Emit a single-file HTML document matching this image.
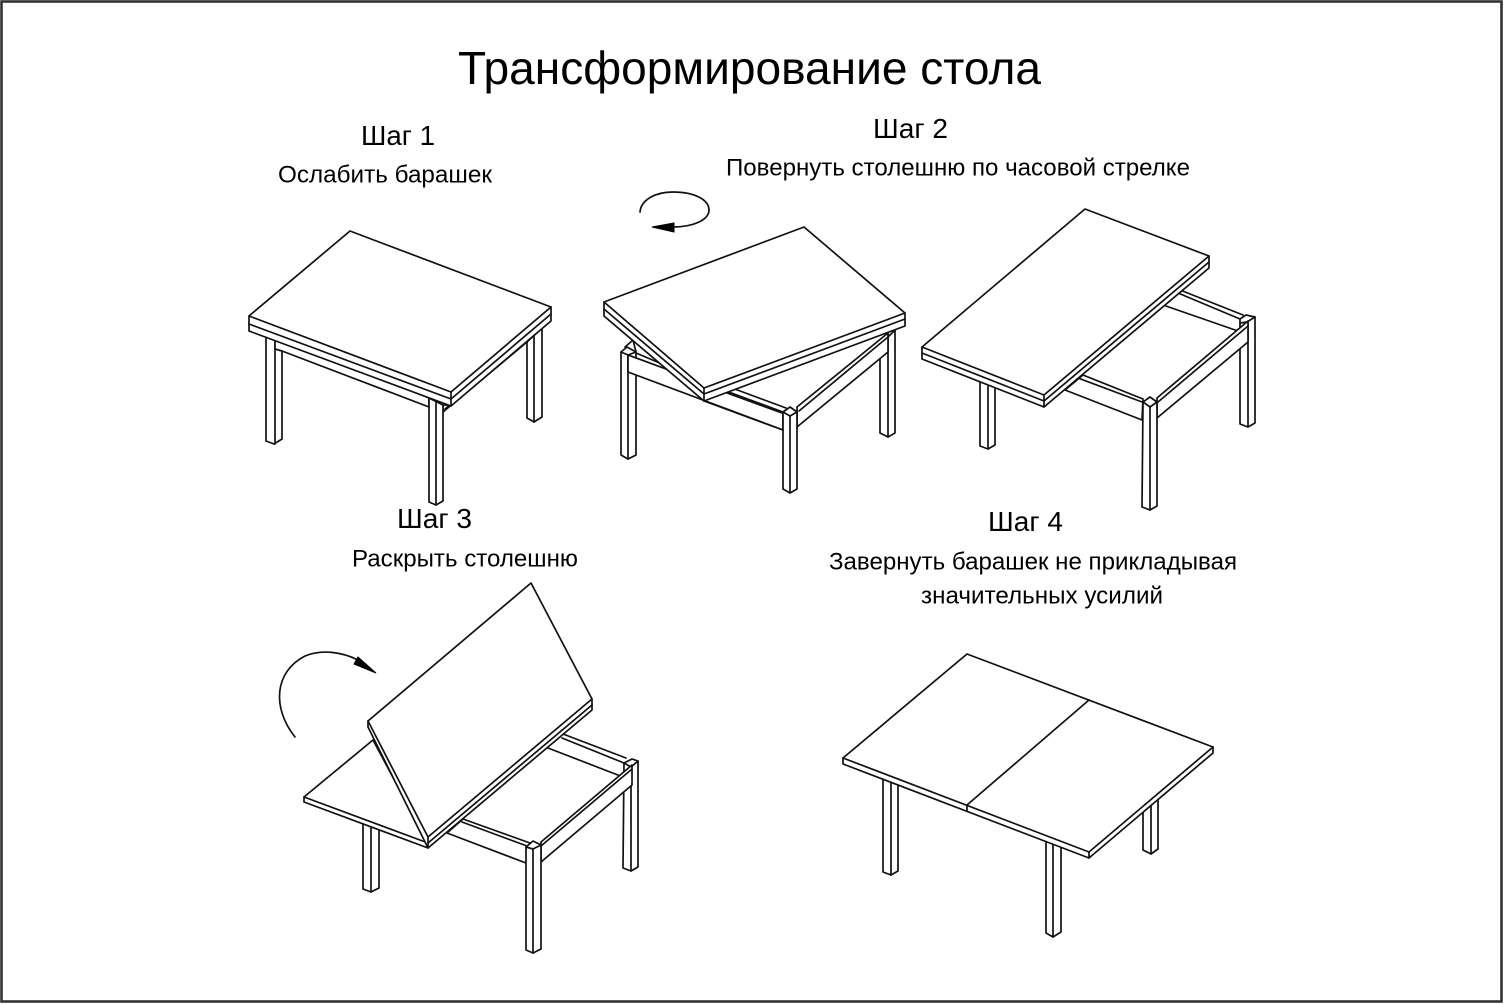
<!DOCTYPE html>
<html lang="ru"><head><meta charset="utf-8"><style>
html,body{margin:0;padding:0;background:#fff}
svg{display:block}
text{font-family:"Liberation Sans",Arial,sans-serif;fill:#000}
.p polygon,.p polyline,.p path,.p line{stroke:#111;stroke-width:1.7;stroke-linejoin:round;stroke-linecap:round}
polygon{fill:#fff}
polyline,line,path{fill:none}
</style></head><body>
<svg width="1504" height="1004" viewBox="0 0 1504 1004" xmlns="http://www.w3.org/2000/svg">
<rect x="0" y="0" width="1504" height="1004" fill="#fff"/>
<rect x="1.5" y="1.5" width="1500" height="1000" fill="none" stroke="#333" stroke-width="2.6"/>

<text x="458" y="84" font-size="46" textLength="583" lengthAdjust="spacingAndGlyphs">Трансформирование стола</text>
<text x="361" y="145" font-size="28" textLength="74" lengthAdjust="spacingAndGlyphs">Шаг 1</text>
<text x="278" y="182.5" font-size="24.5" textLength="214" lengthAdjust="spacingAndGlyphs">Ослабить барашек</text>
<text x="873" y="138" font-size="28" textLength="75" lengthAdjust="spacingAndGlyphs">Шаг 2</text>
<text x="726" y="175.5" font-size="24.5" textLength="464" lengthAdjust="spacingAndGlyphs">Повернуть столешню по часовой стрелке</text>
<text x="397" y="528" font-size="28" textLength="75" lengthAdjust="spacingAndGlyphs">Шаг 3</text>
<text x="352" y="566.5" font-size="24.5" textLength="226" lengthAdjust="spacingAndGlyphs">Раскрыть столешню</text>
<text x="988" y="531" font-size="28" textLength="75" lengthAdjust="spacingAndGlyphs">Шаг 4</text>
<text x="829" y="569.5" font-size="24.5" textLength="408" lengthAdjust="spacingAndGlyphs">Завернуть барашек не прикладывая</text>
<text x="921" y="603.5" font-size="24.5" textLength="242" lengthAdjust="spacingAndGlyphs">значительных усилий</text>

<!-- Table 1 -->
<g class="p">
<polygon points="527,330 542,322 542,417 534,422 527,418"/><line x1="534" y1="335" x2="534" y2="422"/>
<polygon points="443,412 527,342 542,328 451,405 443,405"/>
<line x1="445" y1="409" x2="540" y2="330"/>
<polygon points="266,330 282,330 282,439 274,444 266,441"/><line x1="275" y1="335" x2="275" y2="444"/>
<polygon points="275,335 429,398 429,407 282,351 275,349"/>
<polygon points="429,398 443,405 443,501 436,505 429,502"/><line x1="436" y1="402" x2="436" y2="505"/>
<polygon points="350,231 551,307 551,321 451,406 249,331 249,316"/>
<polyline points="249,316 451,392 551,307"/>
<polyline points="249,324 451,399 551,314"/>
<line x1="451" y1="392" x2="451" y2="406"/>
</g>

<!-- Table 2 -->
<g class="p">
<polygon points="880,345 895,330 895,433 888,437 880,433"/><line x1="888" y1="333" x2="888" y2="437"/>
<polyline points="625,347 633,340 636,352"/>
<polygon points="621,352 627,347 636,352 636,455 628,459 621,455"/>
<polyline points="621,352 628,355 636,352"/><line x1="628" y1="355" x2="628" y2="459"/>
<polygon points="628,355 783,412 783,430 628,372"/>
<line x1="636" y1="353" x2="662" y2="364"/>
<polygon points="797,407 888,333 888,352 797,427"/>
<line x1="799" y1="411" x2="888" y2="337"/>
<line x1="732" y1="388" x2="786" y2="408"/>
<line x1="727" y1="393" x2="782" y2="413"/>
<polygon points="783,412 790,407 797,412 797,489 790,493 783,489"/>
<polyline points="783,412 790,416 797,412"/><line x1="790" y1="416" x2="790" y2="493"/>
<polygon points="804,227 905,313 905,326 704,401 604,316 604,302"/>
<polyline points="604,302 704,388 905,313"/>
<polyline points="604,309 704,394 905,319"/>
<line x1="704" y1="388" x2="704" y2="401"/>
<line x1="704" y1="401" x2="783" y2="430"/>
</g>

<!-- Table 3 -->
<g class="p">
<polygon points="1240,319 1246,315 1255,317 1255,423 1248,427 1240,424"/><line x1="1248" y1="323" x2="1248" y2="427"/>
<polyline points="1240,323 1247,322 1255,317"/>
<line x1="1180" y1="290" x2="1243" y2="315"/>
<line x1="1178" y1="293" x2="1240" y2="319"/>
<line x1="1163" y1="305" x2="1238" y2="331"/>
<polygon points="980,375 995,375 995,445 988,449 980,446"/><line x1="988" y1="382" x2="988" y2="449"/>
<polygon points="1083,375 1143,399 1142,420 1065,390"/>
<line x1="1078" y1="378" x2="1142" y2="402"/>
<polygon points="1157,398 1248,321 1248,342 1157,418"/>
<line x1="1158" y1="402" x2="1248" y2="326"/>
<polygon points="1143,402 1150,397 1157,402 1157,506 1150,510 1142,507"/>
<polyline points="1143,402 1150,407 1157,402"/><line x1="1150" y1="407" x2="1150" y2="510"/>
<polygon points="1085,209 1209,256 1209,268 1044,407 922,359 922,347"/>
<polyline points="922,347 1044,395 1209,256"/>
<polyline points="922,353 1044,401 1209,262"/>
<line x1="1044" y1="395" x2="1044" y2="407"/>
</g>

<!-- Table 4 (step 3) -->
<g class="p">
<polygon points="624,763 632,759 638,761 638,867 631,871 623,868"/><line x1="631" y1="767" x2="631" y2="871"/>
<polyline points="624,763 631,767 638,761"/>
<line x1="563" y1="734" x2="626" y2="758"/>
<line x1="562" y1="738" x2="624" y2="763"/>
<line x1="548" y1="748" x2="623" y2="777"/>
<polygon points="363,820 379,820 379,888 371,892 363,889"/><line x1="371" y1="825" x2="371" y2="892"/>
<polygon points="463,819 530,843 526,863 447,833"/>
<line x1="462" y1="822" x2="527" y2="846"/>
<polygon points="541,842 632,765 632,785 541,862"/>
<line x1="541" y1="846" x2="632" y2="769"/>
<polygon points="526,847 533,841 541,845 541,949 533,953 526,950"/>
<polyline points="526,847 533,849 541,845"/><line x1="533" y1="849" x2="533" y2="953"/>
<polygon points="304,797 373,740 428,843 428,848 304,802"/>
<line x1="304" y1="797" x2="428" y2="843"/>
<polygon points="531,583 592,699 592,710 428,848 368,727 368,721"/>
<polyline points="368,721 428,837 592,699"/>
<line x1="428" y1="843" x2="592" y2="705"/>
<line x1="428" y1="837" x2="428" y2="848"/>
</g>

<!-- Table 5 (step 4) -->
<g class="p">
<polygon points="1143,795 1158,795 1158,849 1151,854 1143,850"/><line x1="1151" y1="800" x2="1151" y2="854"/>
<polygon points="883,775 898,775 898,871 891,875 883,872"/><line x1="891" y1="780" x2="891" y2="875"/>
<polygon points="1046,835 1061,835 1061,932 1053,937 1046,933"/><line x1="1053" y1="845" x2="1053" y2="937"/>
<polygon points="967,654 1213,747 1213,753 1089,858 843,764 843,758"/>
<polyline points="843,758 1089,852 1213,747"/>
<line x1="1089" y1="852" x2="1089" y2="858"/>
<polyline points="1089,700 967,805 967,811"/>
</g>

<!-- Arrows -->
<g class="p">
<path d="M640,212 C641,200 655,192 673,192 C695,192 709,200 709,210 C709,220 693,227 673,227 L668,227"/>
<path d="M295,737 C272,708 274,672 305,656 C322,649 342,652 358,660"/>
</g>
<polygon points="652,227 674,223 674,232" style="fill:#000;stroke:#000;stroke-width:1"/>
<polygon points="376,673 358,657 354,664" style="fill:#000;stroke:#000;stroke-width:1"/>
</svg>
</body></html>
